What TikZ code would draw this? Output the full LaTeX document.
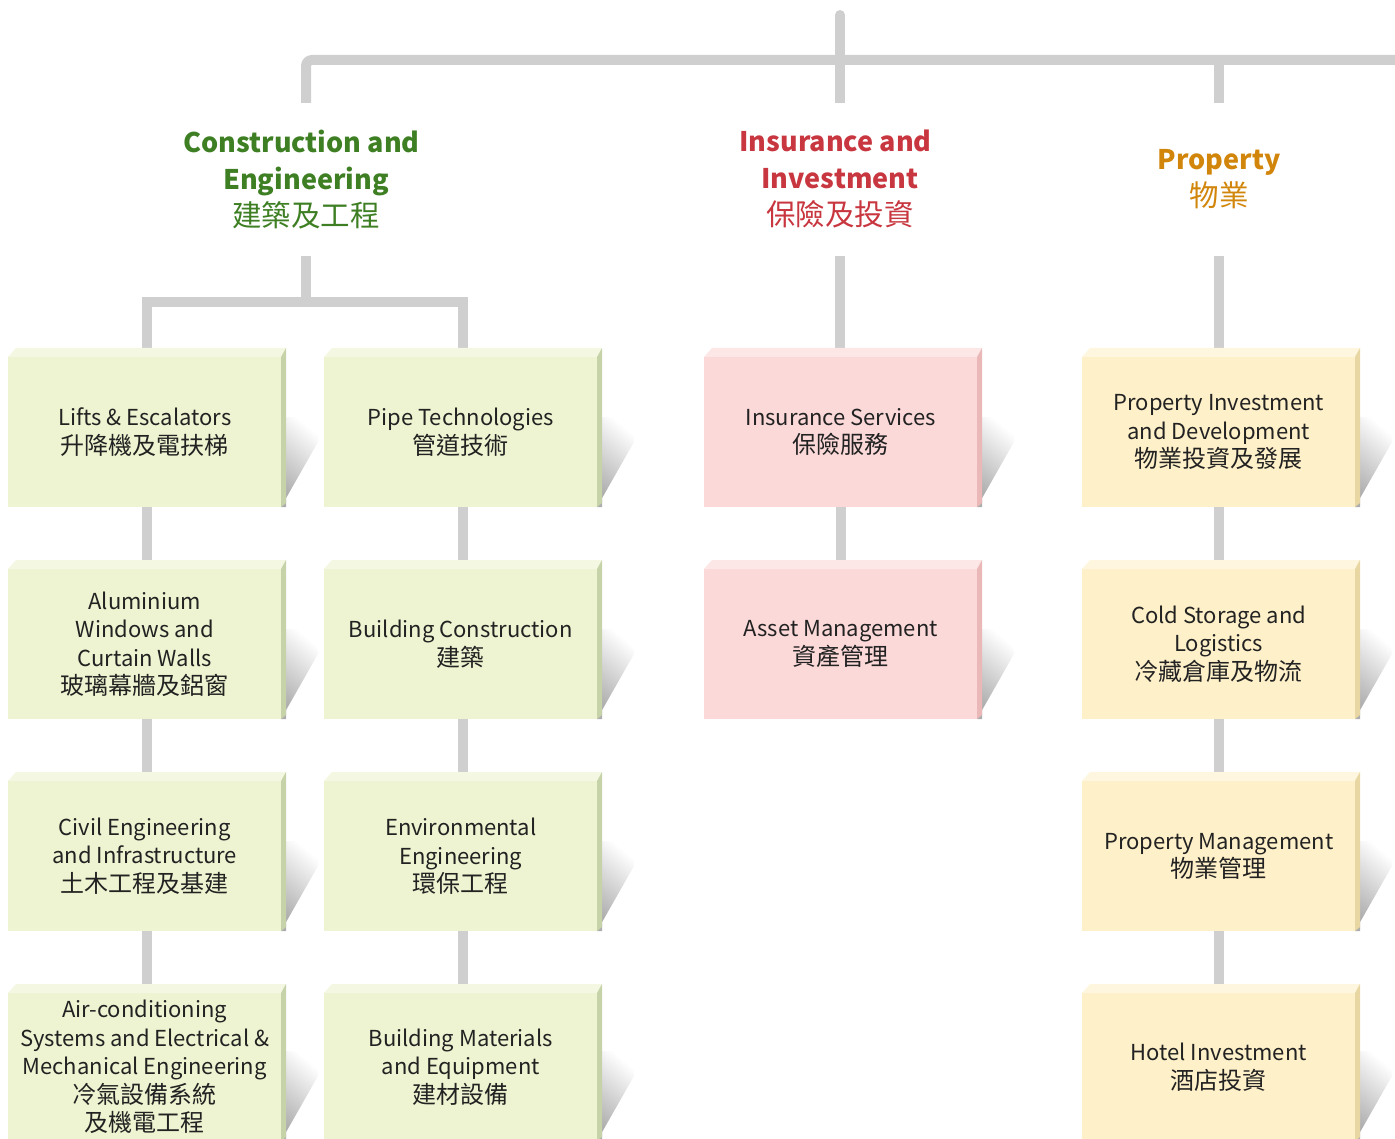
\documentclass[tikz,border=0pt]{standalone}
\usepackage{fontspec}
\setmainfont{Noto Sans CJK TC}
\usetikzlibrary{calc}
\pgfdeclarelayer{bg}
\pgfsetlayers{bg,main}
\definecolor{conn}{HTML}{CFCFCF}
\definecolor{gface}{HTML}{EEF4D1}
\definecolor{gtop}{HTML}{F4F7E1}
\definecolor{gside}{HTML}{C6D3A8}
\definecolor{rface}{HTML}{FCD9D9}
\definecolor{rtop}{HTML}{FDE6E6}
\definecolor{rside}{HTML}{EBB8B8}
\definecolor{yface}{HTML}{FEF0C9}
\definecolor{ytop}{HTML}{FEF6DE}
\definecolor{yside}{HTML}{E8D7A3}
\definecolor{hgreen}{HTML}{3E7F24}
\definecolor{hred}{HTML}{C8363F}
\definecolor{horange}{HTML}{D1860B}
\definecolor{txt}{HTML}{222222}
\newcommand{\zh}[1]{{\fontsize{24}{28.5}\selectfont #1}}
\newcommand{\zhh}[1]{{\fontsize{29.5}{37}\selectfont #1}}
\tikzset{
  connline/.style={draw=conn, line width=10pt},
  facebox/.style={inner sep=0pt, minimum width=273pt, align=center, text=txt,
    font=\fontsize{22}{28.5}\selectfont},
  head/.style={inner sep=0pt, minimum height=153pt, align=center,
    font=\fontsize{27}{37}\selectfont},
}
\newcommand{\unitbox}[6]{%
  \pgfmathsetmacro\bxR{#2+273}%
  \pgfmathsetmacro\bxT{#3+9}%
  \pgfmathsetmacro\bxH{#4-#3-9}%
  \shade[shading=axis, bottom color=black!32, top color=white, shading angle=-40]
     (\bxR+5,#4) -- (\bxR,#4) -- (\bxR+37,#4-65) -- (\bxR+37,#4-90) -- (\bxR+5,#4-90) -- cycle;
  \node[facebox, fill=#5face, minimum height=\bxH, anchor=north west] (#1) at (#2,\bxT) {#6};
  \fill[#5top] (#2,\bxT) -- (#2+8,#3) -- (\bxR+5,#3) -- (\bxR,\bxT) -- cycle;
  \fill[#5side] (\bxR,\bxT) -- (\bxR+5,#3) -- (\bxR+5,#4-4) -- (\bxR,#4) -- cycle;
}
\begin{document}
\begin{tikzpicture}[x=1pt,y=-1pt]
\useasboundingbox (0,0) rectangle (1395,1139);
\clip (0,0) rectangle (1395,1139);

% headings
\node[head, text=hgreen] (hce) at (306,179.5) {\textbf{Construction and}\kern9pt\\\textbf{Engineering}\\\zhh{建築及工程}};
\node[head, text=hred] (hii) at (840,179.5) {\textbf{Insurance and}\kern9pt\\\textbf{Investment}\\\zhh{保險及投資}};
\node[head, text=horange] (hp) at (1219,179.5) {\textbf{Property}\\\zhh{物業}};

% column 1
\unitbox{c1r1}{8}{348}{507}{g}{Lifts \& Escalators\\\zh{升降機及電扶梯}}
\unitbox{c1r2}{8}{560}{719}{g}{Aluminium\\Windows and\\Curtain Walls\\\zh{玻璃幕牆及鋁窗}}
\unitbox{c1r3}{8}{772}{931}{g}{Civil Engineering\\and Infrastructure\\\zh{土木工程及基建}}
\unitbox{c1r4}{8}{984}{1141}{g}{Air-conditioning\\Systems and Electrical \&\\Mechanical Engineering\\\zh{冷氣設備系統}\\\zh{及機電工程}}
% column 2
\unitbox{c2r1}{324}{348}{507}{g}{Pipe Technologies\\\zh{管道技術}}
\unitbox{c2r2}{324}{560}{719}{g}{Building Construction\\\zh{建築}}
\unitbox{c2r3}{324}{772}{931}{g}{Environmental\\Engineering\\\zh{環保工程}}
\unitbox{c2r4}{324}{984}{1141}{g}{Building Materials\\and Equipment\\\zh{建材設備}}
% column 3
\unitbox{c3r1}{704}{348}{507}{r}{Insurance Services\\\zh{保險服務}}
\unitbox{c3r2}{704}{560}{719}{r}{Asset Management\\\zh{資產管理}}
% column 4
\unitbox{c4r1}{1082}{348}{507}{y}{Property Investment\\and Development\\\zh{物業投資及發展}}
\unitbox{c4r2}{1082}{560}{719}{y}{Cold Storage and\\Logistics\\\zh{冷藏倉庫及物流}}
\unitbox{c4r3}{1082}{772}{931}{y}{Property Management\\\zh{物業管理}}
\unitbox{c4r4}{1082}{984}{1141}{y}{Hotel Investment\\\zh{酒店投資}}

\coordinate (topend) at (840,15);
\coordinate (rend) at (1400,60);
\coordinate (cej) at (306,302);

\begin{pgfonlayer}{bg}
\draw[connline, line cap=round] (topend) -- (topend |- rend);
\draw[connline] (hii.north) -- (hii.north |- rend);
\draw[connline, rounded corners=6pt] (hce.north) |- (rend);
\draw[connline] (hp.north) -- (hp.north |- rend);
\draw[connline] (hce.south) -- (cej);
\draw[connline] ([xshift=2pt]c1r1.north) -- ([xshift=2pt]c1r1.north |- cej) -- ([xshift=2pt]c2r1.north |- cej) -- ([xshift=2pt]c2r1.north);
\draw[connline] (hii.south) -- (hii.south |- c3r1.north);
\draw[connline] (hp.south) -- (hp.south |- c4r1.north);
\foreach \c in {1,2}{
  \draw[connline] ([xshift=2pt]c\c r1.south) -- ([xshift=2pt]c\c r2.north);
  \draw[connline] ([xshift=2pt]c\c r2.south) -- ([xshift=2pt]c\c r3.north);
  \draw[connline] ([xshift=2pt]c\c r3.south) -- ([xshift=2pt]c\c r4.north);
}
\draw[connline] (c3r1.south) -- (c3r2.north);
\draw[connline] (c4r1.south) -- (c4r2.north);
\draw[connline] (c4r2.south) -- (c4r3.north);
\draw[connline] (c4r3.south) -- (c4r4.north);
\end{pgfonlayer}
\end{tikzpicture}
\end{document}
